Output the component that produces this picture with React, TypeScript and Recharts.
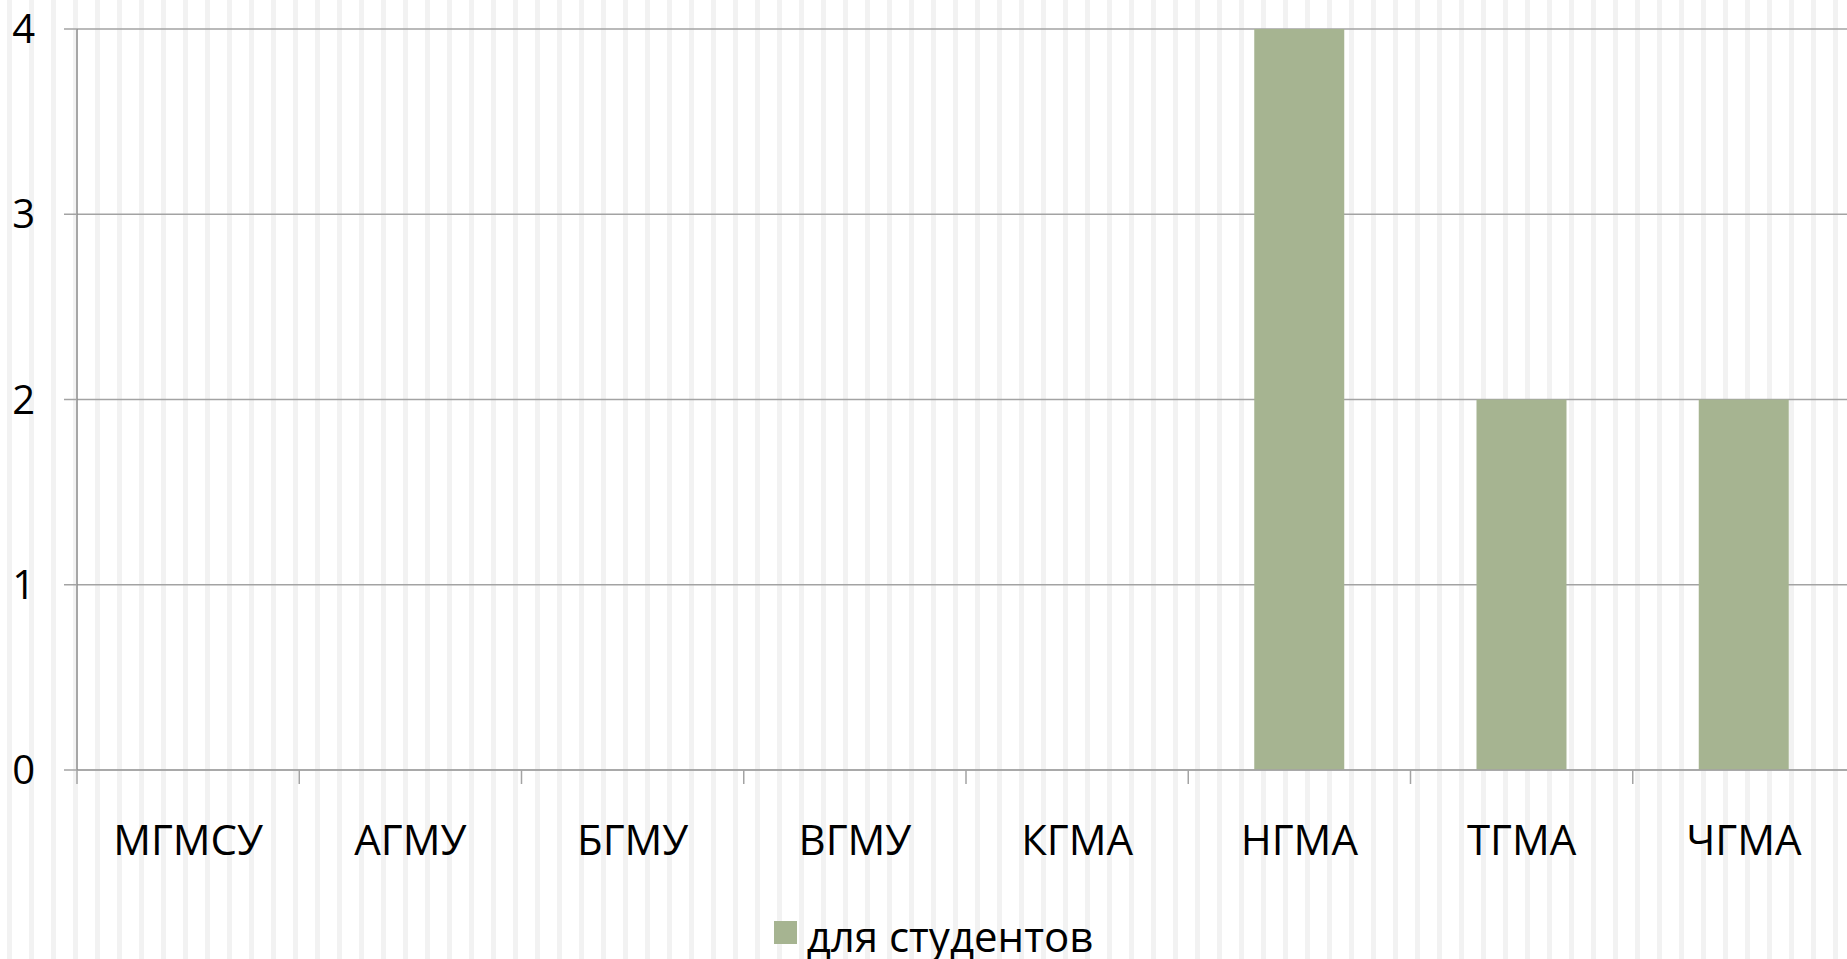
import { BarChart, Bar, XAxis, YAxis, CartesianGrid, Legend } from "recharts";

const categories = ["МГМСУ", "АГМУ", "БГМУ", "ВГМУ", "КГМА", "НГМА", "ТГМА", "ЧГМА"];
const studentValues = [0, 0, 0, 0, 0, 4, 2, 2];
const yTicks = [0, 1, 2, 3, 4];
const seriesName = "для студентов";

const data = categories.map((name, i) => ({ name, students: studentValues[i] }));

const font = "'Open Sans', 'DejaVu Sans', sans-serif";
const axisGray = "#a3a3a3";
const barColor = "#a6b491";

// Excel style: tick marks sit between categories, label in the middle
function CategoryTick(props: any) {
  const { x, y, payload } = props;
  const half = payload.offset || 0;
  return (
    <g>
      <line x1={x - half} x2={x - half} y1={y} y2={y + 14} stroke={axisGray} strokeWidth={1.5} />
      <text x={x} y={y + 55} dy="0.71em" textAnchor="middle" fontSize={42} fontFamily={font} fill="#000">
        {payload.value}
      </text>
    </g>
  );
}

function LegendBox() {
  return (
    <div
      style={{
        height: 70,
        display: "flex",
        alignItems: "center",
        justifyContent: "center",
        fontFamily: font,
        fontSize: 42,
        color: "#000",
        paddingLeft: 12,
        position: "relative",
        top: 5,
      }}
    >
      <span style={{ width: 23, height: 23, background: barColor, marginRight: 10, marginTop: -6 }} />
      <span>{seriesName}</span>
    </div>
  );
}

export default function App() {
  return (
    <div
      style={{
        position: "fixed",
        left: 0,
        top: 0,
        width: 1847,
        height: 959,
        overflow: "hidden",
        background: "repeating-linear-gradient(to right, #ffffff 0px, #ffffff 7px, #f2f2f2 7px, #f2f2f2 12px, #ffffff 12px, #ffffff 22px)",
      }}
    >
      <BarChart width={1865} height={965} data={data} margin={{ top: 29, right: 10, bottom: 0, left: 0 }}>
        <CartesianGrid vertical={false} stroke={axisGray} strokeWidth={1.5} />
        <XAxis
          dataKey="name"
          height={125}
          tickSize={0}
          tickMargin={0}
          tickLine={false}
          axisLine={{ stroke: axisGray, strokeWidth: 1.5 }}
          tick={<CategoryTick />}
          interval={0}
        />
        <YAxis
          width={77}
          domain={[0, 4]}
          ticks={yTicks}
          tickSize={13}
          tickMargin={29}
          axisLine={{ stroke: "#8c8c8c", strokeWidth: 1.5 }}
          tickLine={{ stroke: axisGray, strokeWidth: 1.5 }}
          tick={{ fontSize: 40, fontFamily: font, fill: "#000" }}
        />
        <Legend verticalAlign="bottom" content={<LegendBox />} />
        <Bar dataKey="students" name={seriesName} fill={barColor} barSize={90} isAnimationActive={false} />
      </BarChart>
    </div>
  );
}
